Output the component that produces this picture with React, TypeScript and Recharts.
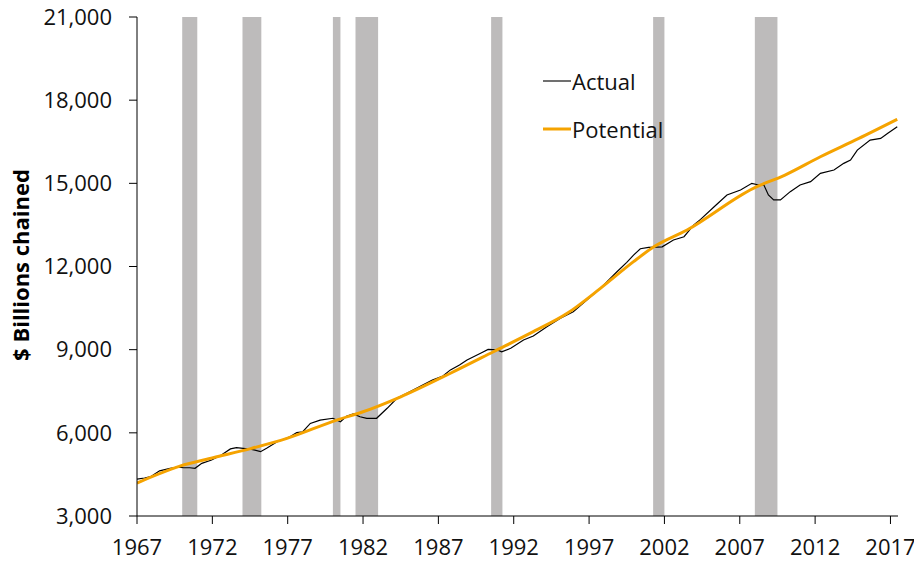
import React from "react";
import {
  LineChart,
  Line,
  XAxis,
  YAxis,
  ReferenceArea,
} from "recharts";

const actualYears = [
  1967.0, 1967.5, 1967.9, 1968.5, 1969.2, 1969.7, 1970.1, 1970.5, 1970.85, 1971.3,
  1971.95, 1972.6, 1973.2, 1973.6, 1974.05, 1974.6, 1975.2, 1975.6, 1976.3, 1977.15,
  1977.6, 1978.0, 1978.5, 1979.15, 1980.0, 1980.5, 1980.9, 1981.35, 1981.8, 1982.25,
  1982.9, 1983.6, 1984.25, 1985.1, 1985.8, 1986.6, 1987.3, 1987.8, 1988.4, 1988.9,
  1989.8, 1990.3, 1990.9, 1991.2, 1991.8, 1992.65, 1993.3, 1994.2, 1995.1, 1995.95,
  1996.85, 1997.75, 1998.85, 1999.5, 1999.95, 2000.4, 2000.95, 2001.5, 2001.85, 2002.6,
  2003.3, 2003.95, 2004.4, 2005.3, 2006.15, 2007.05, 2007.8, 2008.25, 2008.6, 2008.9,
  2009.25, 2009.7, 2010.35, 2011.0, 2011.7, 2012.35, 2013.25, 2013.9, 2014.35, 2014.8,
  2015.65, 2016.35, 2016.8, 2017.45,
];
const actualValues = [
  4330, 4370, 4420, 4630, 4720, 4760, 4740, 4740, 4720, 4900,
  5020, 5200, 5420, 5465, 5440, 5405, 5320, 5440, 5680, 5860,
  6005, 6040, 6340, 6460, 6525, 6400, 6600, 6680, 6580, 6520,
  6525, 6885, 7245, 7480, 7680, 7900, 8050, 8270, 8450, 8630,
  8870, 9010, 8990, 8925, 9050, 9350, 9490, 9830, 10130, 10370,
  10790, 11210, 11810, 12150, 12410, 12640, 12690, 12700, 12710, 12955,
  13075, 13500, 13700, 14155, 14580, 14760, 15000, 14940, 14940, 14580,
  14400, 14400, 14700, 14940, 15060, 15360, 15480, 15720, 15840, 16200,
  16560, 16620, 16800, 17040,
];

const potentialYears = [
  1967.0, 1969.85, 1972.05, 1974.6, 1976.95, 1980.25, 1982.0, 1984.5, 1987.8, 1990.65,
  1993.3, 1995.55, 1997.75, 1999.95, 2001.3, 2003.5, 2007.9, 2010.0, 2012.35, 2014.9,
  2017.45,
];
const potentialValues = [
  4190, 4800, 5100, 5440, 5800, 6460, 6760, 7300, 8150, 8925,
  9650, 10310, 11210, 12175, 12710, 13316, 14820, 15300, 15960, 16620,
  17310,
];

// recession periods (start, end)
const recessions = [
  [1970.0, 1971.0],
  [1974.0, 1975.25],
  [1980.0, 1980.5],
  [1981.5, 1983.0],
  [1990.5, 1991.25],
  [2001.25, 2002.0],
  [2008.0, 2009.5],
];

const xTicks = [1967, 1972, 1977, 1982, 1987, 1992, 1997, 2002, 2007, 2012, 2017];
const yTicks = [3000, 6000, 9000, 12000, 15000, 18000, 21000];

const actualData = actualYears.map((year, i) => ({ year, value: actualValues[i] }));
const potentialData = potentialYears.map((year, i) => ({ year, value: potentialValues[i] }));

const FONT = "'Open Sans', 'Noto Sans', sans-serif";
const ORANGE = "#F5A300";

const legendItems = [
  { name: "Actual", color: "#222", width: 1.3 },
  { name: "Potential", color: ORANGE, width: 3 },
];

const ChartLegend = () => (
  <div
    style={{
      position: "absolute",
      left: 543,
      top: 68,
      fontFamily: FONT,
      fontSize: 22,
      color: "#111",
      lineHeight: "26px",
    }}
  >
    {legendItems.map((item) => (
      <div key={item.name} style={{ display: "flex", alignItems: "center", height: 26, marginBottom: 22 }}>
        <svg width={28} height={10} style={{ marginRight: 1 }}>
          <line x1={0} y1={5} x2={28} y2={5} stroke={item.color} strokeWidth={item.width} />
        </svg>
        <span>{item.name}</span>
      </div>
    ))}
  </div>
);

const App: React.FC = () => {
  return (
    <div style={{ position: "relative", width: 922, height: 564, margin: -8 }}>
      <LineChart
        width={922}
        height={564}
        margin={{ top: 17, right: 24, bottom: 0, left: 0 }}
        style={{ fontFamily: FONT }}
      >
        <XAxis
          type="number"
          dataKey="year"
          domain={[1967, 2017.5]}
          ticks={xTicks}
          allowDataOverflow
          height={48}
          tickSize={8}
          tickMargin={15}
          stroke="#000"
          tick={{ fill: "#111", fontSize: 22, fontFamily: FONT }}
        />
        <YAxis
          type="number"
          dataKey="value"
          domain={[3000, 21000]}
          ticks={yTicks}
          width={137}
          tickSize={8}
          tickMargin={17}
          stroke="#000"
          tickFormatter={(v) => Number(v).toLocaleString("en-US")}
          tick={{ fill: "#111", fontSize: 22, fontFamily: FONT }}
          label={{
            content: () => (
              <text
                x={20}
                y={265}
                transform="rotate(-90, 20, 265)"
                textAnchor="middle"
                dominantBaseline="central"
                fontFamily={FONT}
                fontWeight="bold"
                fontSize={22}
                fill="#000"
              >
                $ Billions chained
              </text>
            ),
          }}
        />
        {recessions.map(([x1, x2]) => (
          <ReferenceArea
            key={x1}
            x1={x1}
            x2={x2}
            y1={3000}
            y2={21000}
            fill="#BDBBBB"
            fillOpacity={1}
            stroke="none"
          />
        ))}
        <Line
          data={actualData}
          dataKey="value"
          name="Actual"
          type="linear"
          stroke="#000"
          strokeWidth={1.2}
          dot={false}
          isAnimationActive={false}
        />
        <Line
          data={potentialData}
          dataKey="value"
          name="Potential"
          type="monotone"
          stroke={ORANGE}
          strokeWidth={3}
          dot={false}
          isAnimationActive={false}
        />
      </LineChart>
      <ChartLegend />
    </div>
  );
};

export default App;
